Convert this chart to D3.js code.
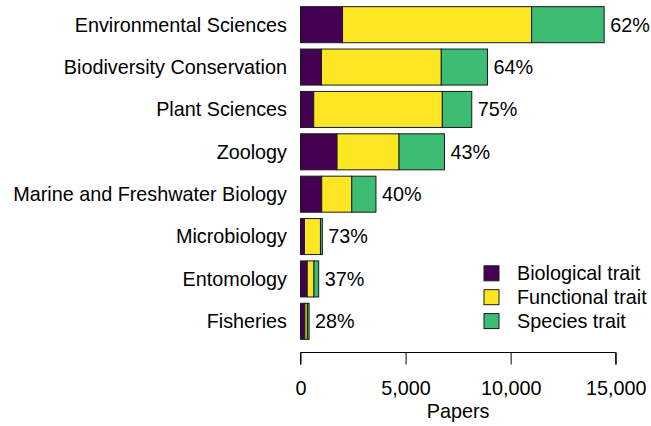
<!DOCTYPE html>
<html><head><meta charset="utf-8">
<script src="https://cdn.jsdelivr.net/npm/d3@7"></script>
<style>body{margin:0;background:#fff}svg{display:block}text{font-family:"Liberation Sans",Arial,sans-serif;fill:#000}</style>
</head><body><svg id="c" width="651" height="426"></svg>
<script>
const categories = ["Environmental Sciences","Biodiversity Conservation","Plant Sciences","Zoology","Marine and Freshwater Biology","Microbiology","Entomology","Fisheries"];
const biological = [2000, 1000, 630, 1740, 1010, 190, 320, 210];
const functional = [9000, 5700, 6120, 2950, 1430, 760, 320, 115];
const species    = [3450, 2200, 1400, 2160, 1150, 90, 225, 85];
const percentLabels = ["62%","64%","75%","43%","40%","73%","37%","28%"];
const seriesNames = ["Biological trait","Functional trait","Species trait"];
const xTicks = [0, 5000, 10000, 15000];

const colors = ["#440154","#fde725","#3dbc74"];
const fs = 19.8;
const svg = d3.select("#c");
const x = d3.scaleLinear().domain([0,15000]).range([300.5,615.7]);
const y = d3.scaleBand().domain(categories).range([3.5,342.5]).paddingInner(0.15).paddingOuter(0.075);

const rows = categories.map((c,i)=>({cat:c, Biological:biological[i], Functional:functional[i], Species:species[i]}));
const stack = d3.stack().keys(["Biological","Functional","Species"])(rows);

stack.forEach((layer,k)=>{
  svg.append("g").selectAll("rect").data(layer).join("rect")
    .attr("x", d=>x(d[0])).attr("width", d=>x(d[1])-x(d[0]))
    .attr("y", d=>y(d.data.cat)).attr("height", y.bandwidth())
    .attr("fill", colors[k]).attr("stroke","#1a1a1a").attr("stroke-width",1);
});

// percent labels
svg.append("g").selectAll("text").data(rows).join("text")
  .attr("x", (d,i)=>x(biological[i]+functional[i]+species[i])+6)
  .attr("y", d=>y(d.cat)+y.bandwidth()/2)
  .attr("dy","0.35em").attr("font-size",fs)
  .text((d,i)=>percentLabels[i]);

// category labels
svg.append("g").selectAll("text").data(categories).join("text")
  .attr("x", 287).attr("y", d=>y(d)+y.bandwidth()/2)
  .attr("dy","0.35em").attr("text-anchor","end").attr("font-size",fs)
  .text(d=>d);

// x axis
const ax = svg.append("g").attr("transform","translate(0,352.5)")
  .call(d3.axisBottom(x).tickValues(xTicks).tickSize(12).tickPadding(16).tickFormat(d3.format(",")));
ax.select(".domain").attr("d", `M${x(0)},12V0H${x(15000)}V12`).attr("stroke","#000");
ax.selectAll(".tick line").attr("stroke","#000");
ax.selectAll(".tick text").attr("font-size",fs).attr("font-family","Liberation Sans, Arial, sans-serif").attr("fill","#000");

svg.append("text").attr("x",(x(0)+x(15000))/2).attr("y",418).attr("text-anchor","middle")
  .attr("font-size",fs).text("Papers");

// legend
const lg = svg.append("g");
seriesNames.forEach((n,i)=>{
  const cy = 273.3 + i*23.9;
  lg.append("rect").attr("x",484).attr("y",cy-7.5).attr("width",15).attr("height",15)
    .attr("fill",colors[i]).attr("stroke","#1a1a1a").attr("stroke-width",1);
  lg.append("text").attr("x",517).attr("y",cy).attr("dy","0.35em").attr("font-size",fs).text(n);
});
</script></body></html>
